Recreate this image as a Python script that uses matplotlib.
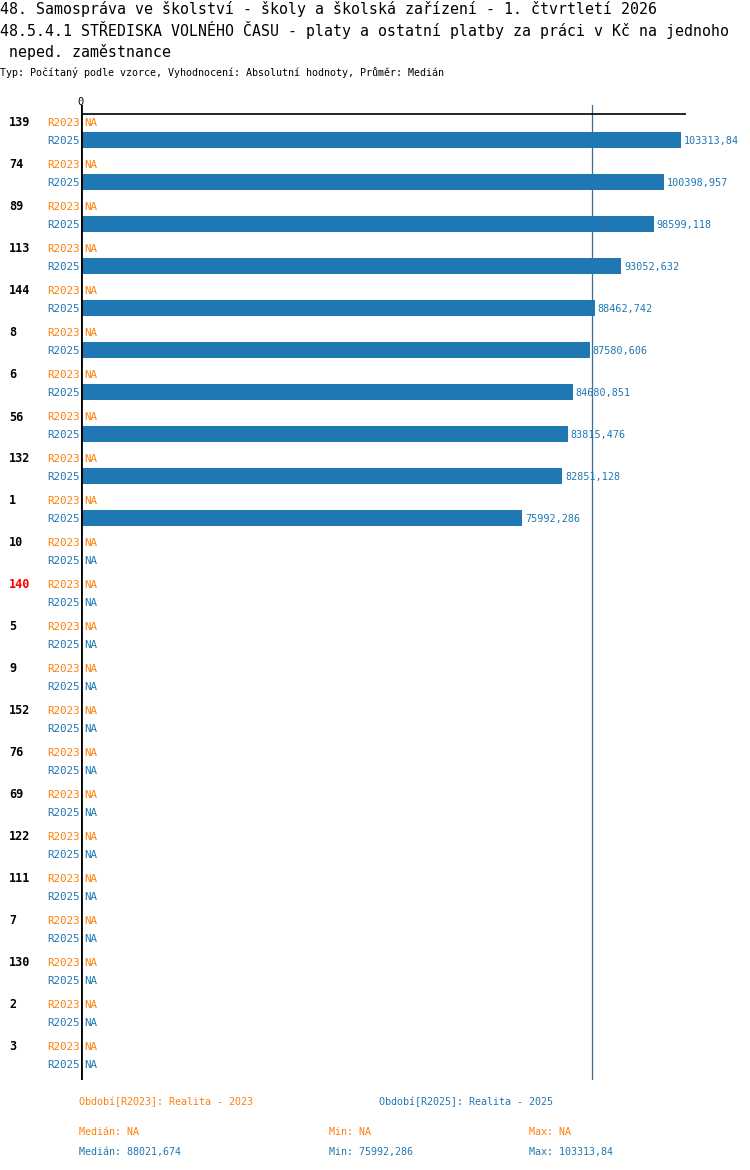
import matplotlib
matplotlib.use("Agg")
import matplotlib.pyplot as plt

# ================== DATA ==================
groups = ["139", "74", "89", "113", "144", "8", "6", "56", "132", "1", "10", "140",
          "5", "9", "152", "76", "69", "122", "111", "7", "130", "2", "3"]
highlight = "140"
r2023 = [None] * len(groups)
r2025 = [103313.84, 100398.957, 98599.118, 93052.632, 88462.742, 87580.606,
         84680.851, 83815.476, 82851.128, 75992.286] + [None] * 13
r2025_labels = ["103313,84", "100398,957", "98599,118", "93052,632", "88462,742",
                "87580,606", "84680,851", "83815,476", "82851,128", "75992,286"]
median_2025 = 88021.674
stats_2023 = ["Medián: NA", "Min: NA", "Max: NA"]
stats_2025 = ["Medián: 88021,674", "Min: 75992,286", "Max: 103313,84"]
title1 = "48. Samospráva ve školství - školy a školská zařízení - 1. čtvrtletí 2026"
title2 = "48.5.4.1 STŘEDISKA VOLNÉHO ČASU - platy a ostatní platby za práci v Kč na jednoho"
title3 = " neped. zaměstnance"
subtitle = "Typ: Počítaný podle vzorce, Vyhodnocení: Absolutní hodnoty, Průměr: Medián"
# ==========================================

ORANGE = "#ff7f0e"
BLUE = "#1f77b4"
W, H = 750, 1170
mono = "DejaVu Sans Mono"

fig = plt.figure(figsize=(W / 100, H / 100), dpi=100)

def ftext(x, y, s, **kw):
    # pixel coordinates (top-left origin) -> figure fraction
    fig.text(x / W, 1 - y / H, s, family=mono, va="center", **kw)

ftext(0, 9, title1, size=10.7)
ftext(0, 30, title2, size=10.7)
ftext(0, 52, title3, size=10.7)
ftext(0, 73, subtitle, size=7.2)

x0, x1, ytop, ybot = 81, 686, 105, 1080
ax = fig.add_axes([x0 / W, 1 - ybot / H, (x1 - x0) / W, (ybot - ytop) / H])
xmax = r2025[0] * (x1 - x0) / 600
ax.set_xlim(0, xmax)
ax.set_ylim(ybot, ytop)
ax.axis("off")

ax.axvline(0, color="black", lw=2, zorder=4)
ax.axhline(114, color="black", lw=1.2, zorder=4)
ax.axvline(median_2025, color="#3a6d94", lw=0.9, zorder=1)
ftext(x0, 102, "0", size=7.5, ha="center")

step = 42
for i, g in enumerate(groups):
    y23 = 123 + i * step
    y25 = 141 + i * step
    ftext(9, y23, g, size=8.5, weight="bold",
          color="red" if g == highlight else "black")
    ftext(80, y23, "R2023", size=7.8, color=ORANGE, ha="right")
    ftext(80, y25, "R2025", size=7.8, color=BLUE, ha="right")
    if r2023[i] is None:
        ftext(84, y23, "NA", size=7.8, color=ORANGE)
    if r2025[i] is None:
        ftext(84, y25, "NA", size=7.8, color=BLUE)
    else:
        ax.barh(y25 - 1, r2025[i], height=16, color=BLUE, zorder=2)
        ax.annotate(r2025_labels[i], (r2025[i], y25), xytext=(2.2, 0),
                    textcoords="offset points", va="center", ha="left",
                    family=mono, size=7.3, color=BLUE)

ftext(79, 1102, "Období[R2023]: Realita - 2023", size=7.2, color=ORANGE)
ftext(379, 1102, "Období[R2025]: Realita - 2025", size=7.2, color=BLUE)
for x, s23, s25 in zip([79, 329, 529], stats_2023, stats_2025):
    ftext(x, 1132, s23, size=7.2, color=ORANGE)
    ftext(x, 1152, s25, size=7.2, color=BLUE)

fig.savefig("out.png", dpi=100)
